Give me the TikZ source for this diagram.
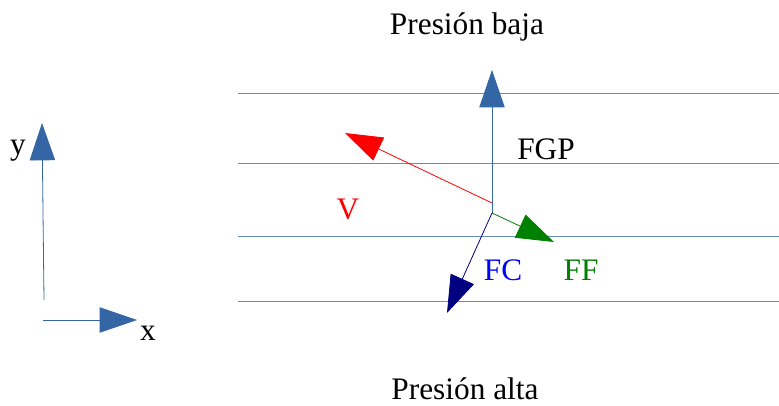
\documentclass[tikz,border=0pt]{standalone}
\usepackage{fontspec}
\setmainfont{Liberation Serif}
\usetikzlibrary{arrows.meta, positioning}
\definecolor{isoblue}{HTML}{3465A4}
\definecolor{ffgreen}{HTML}{008000}
\definecolor{fcnavy}{HTML}{000080}

\begin{document}
\begin{tikzpicture}[x=0.75pt, y=-0.75pt,
    isobar/.style={isoblue!75, line width=0.7pt},
    force/.style={line width=0.6pt, -{Triangle[length=28pt, width=19pt]}},
    lbl/.style={font=\fontsize{23.5}{28}\selectfont, inner sep=0pt}]
    \useasboundingbox (0,0) rectangle (779,406);

    % Isobars
    \foreach \yy in {93, 163, 236, 301}
        \draw[isobar] (238,\yy) -- (779,\yy);

    % Axes
    \coordinate (ax0) at (44,300);
    \coordinate (ay) at (42,123);
    \coordinate (ax1) at (43,320);
    \coordinate (ax) at (137,320);
    \draw[force, isoblue] (ax0) -- (ay);
    \draw[force, isoblue] (ax1) -- (ax);
    \node[lbl, anchor=base] (ylbl) at (18,155) {y};
    \node[lbl, anchor=base] (xlbl) at (148,340) {x};

    % Forces on the parcel
    \coordinate (o) at (492,213);
    \coordinate (ov) at (492,203);
    \coordinate (fgp) at (492,70);
    \coordinate (v) at (345,133);
    \coordinate (ff) at (554,242);
    \coordinate (fc) at (447,313);
    \draw[force, isoblue] (o) -- (fgp);
    \draw[force, red] (ov) -- (v);
    \draw[force, ffgreen] (o) -- (ff);
    \draw[force, fcnavy] (o) -- (fc);

    % Labels
    \node[lbl, anchor=base] (baja) at (467,35) {Presión baja};
    \node[lbl, anchor=base] (alta) at (465,399) {Presión alta};
    \node[lbl, anchor=west] (fgplbl) at (517,149) {FGP};
    \node[lbl, text=red] (vlbl) at (348,209) {V};
    \node[lbl, text=blue] (fclbl) at (503,270) {FC};
    \node[lbl, text=ffgreen] (fflbl) at (581,270) {FF};
\end{tikzpicture}
\end{document}
